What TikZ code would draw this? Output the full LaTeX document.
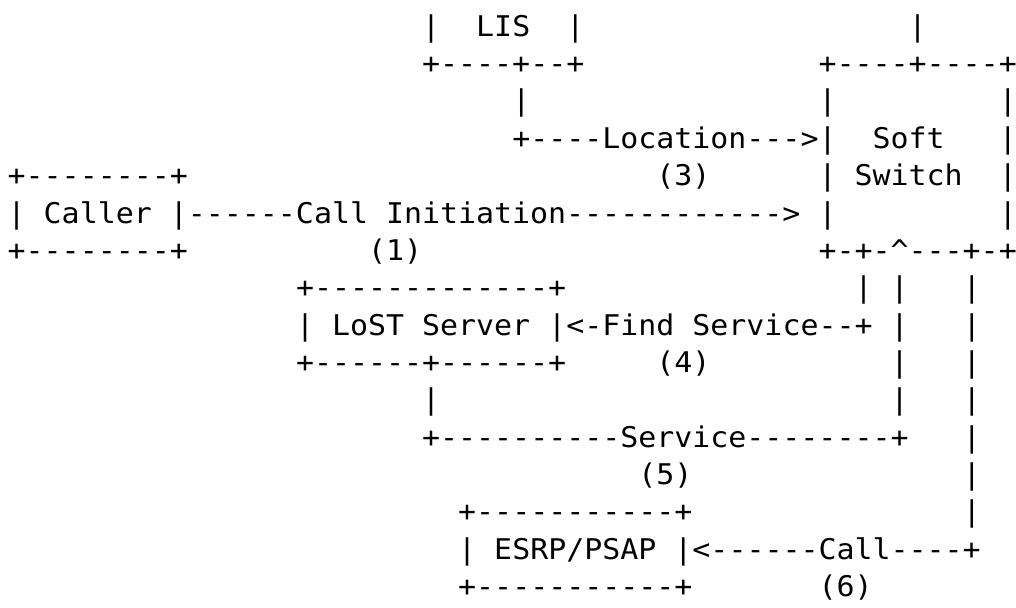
\documentclass[tikz,border=0pt]{standalone}
\usepackage{fontspec}
\setmonofont[FakeStretch=1.05]{DejaVu Sans Mono}
\tikzset{
  seg/.style={anchor=base west, inner sep=0pt, outer sep=0pt,
    font=\ttfamily\fontsize{28.5}{34}\selectfont, text=black}
}
% place a text segment at character column #2 of text row #3
\newcommand\asc[4]{\node[seg] (#1) at ({7.7+#2*18.02},{36.25+#3*37.35}) {#4};}
\begin{document}
\begin{tikzpicture}[x=1pt,y=-1pt]
\useasboundingbox (0,0) rectangle (1016,607);
% row 0
\asc{lisL}{23}{0}{|}
\asc{lisT}{26}{0}{LIS}
\asc{lisR}{31}{0}{|}
\asc{swUp}{50}{0}{|}
% row 1
\asc{lisB}{23}{1}{+----+--+}
\asc{swT}{45}{1}{+----+----+}
% row 2
\asc{locV}{28}{2}{|}
\asc{swL2}{45}{2}{|}
\asc{swR2}{55}{2}{|}
% row 3
\asc{loc}{28}{3}{+----Location--->|}
\asc{soft}{48}{3}{Soft}
\asc{swR3}{55}{3}{|}
% row 4
\asc{callT}{0}{4}{+--------+}
\asc{n3}{36}{4}{(3)}
\asc{swL4}{45}{4}{|}
\asc{switch}{47}{4}{Switch}
\asc{swR4}{55}{4}{|}
% row 5
\asc{caller}{0}{5}{| Caller |}
\asc{init}{10}{5}{------Call Initiation------------>}
\asc{swL5}{45}{5}{|}
\asc{swR5}{55}{5}{|}
% row 6
\asc{callB}{0}{6}{+--------+}
\asc{n1}{20}{6}{(1)}
\asc{swB}{45}{6}{+-+-\textasciicircum---+-+}
% row 7
\asc{lostT}{16}{7}{+-------------+}
\asc{vA7}{47}{7}{|}
\asc{vB7}{49}{7}{|}
\asc{vC7}{53}{7}{|}
% row 8
\asc{lost}{16}{8}{| LoST Server |}
\asc{find}{31}{8}{<-Find Service--+}
\asc{vB8}{49}{8}{|}
\asc{vC8}{53}{8}{|}
% row 9
\asc{lostB}{16}{9}{+------+------+}
\asc{n4}{36}{9}{(4)}
\asc{vB9}{49}{9}{|}
\asc{vC9}{53}{9}{|}
% row 10
\asc{svcV}{23}{10}{|}
\asc{vB10}{49}{10}{|}
\asc{vC10}{53}{10}{|}
% row 11
\asc{svc}{23}{11}{+----------Service--------+}
\asc{vC11}{53}{11}{|}
% row 12
\asc{n5}{35}{12}{(5)}
\asc{vC12}{53}{12}{|}
% row 13
\asc{esrpT}{25}{13}{+-----------+}
\asc{vC13}{53}{13}{|}
% row 14
\asc{esrp}{25}{14}{| ESRP/PSAP |}
\asc{call}{38}{14}{<------Call----+}
% row 15
\asc{esrpB}{25}{15}{+-----------+}
\asc{n6}{45}{15}{(6)}
\end{tikzpicture}
\end{document}
